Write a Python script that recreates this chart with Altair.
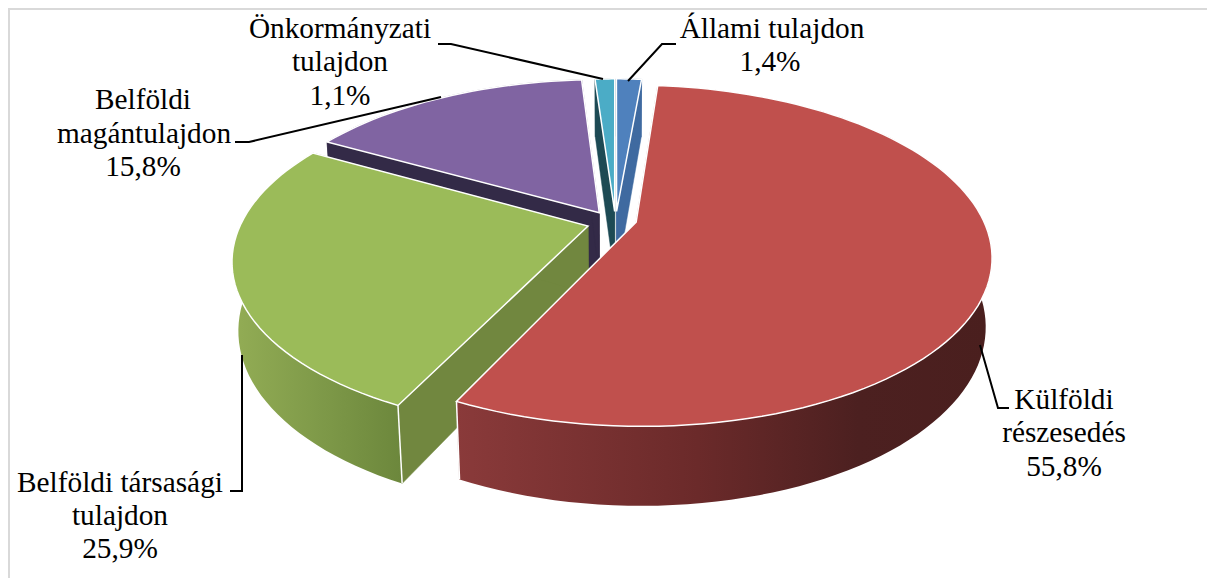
import math
import altair as alt

# ---- values ----
names = ["Állami tulajdon", "Külföldi részesedés", "Belföldi társasági tulajdon",
         "Belföldi magántulajdon", "Önkormányzati tulajdon"]
shares = [1.4, 55.8, 25.9, 15.8, 1.1]
top_colors = ["#4f81bd", "#c0504d", "#9bbb59", "#8064a2", "#4bacc6"]
wall_colors = ["#3f6aa0", "#7a3330", "#71873f", "#332a47", "#1d4a54"]
cut_colors = ["#3f6aa0", "#7a3330", "#71873f", "#332a47", "#1d4a54"]
red_stops = [(0, "#8a3a3a"), (0.45, "#6b2a2a"), (0.75, "#4c2020"), (1, "#4a1f1e")]
green_stops = [(0, "#93ad55"), (0.5, "#7f9a49"), (1, "#6c873c")]
nudge_x = [0, -3.5, -3.5, -3, 0]
nudge_y = [3, -1, 2.5, 2.5, 3]

label_text = ["Állami tulajdon", "1,4%", "Önkormányzati", "tulajdon", "1,1%",
              "Belföldi", "magántulajdon", "15,8%", "Belföldi társasági", "tulajdon", "25,9%",
              "Külföldi", "részesedés", "55,8%"]
label_x = [772, 770, 340, 340, 340, 143, 144, 143, 120, 120, 120, 1064, 1064, 1064]
label_y = [38, 71, 38, 71, 105, 109, 143, 176, 492, 525, 558, 409, 442, 476]

leaders = [
    [[628, 81], [662, 44], [676, 44]],
    [[603, 79], [451, 44], [438, 44]],
    [[441, 97], [249, 142], [235, 142]],
    [[242, 355], [242, 491], [230, 491]],
    [[980, 345], [998, 408], [1009, 408]],
]
frame = [[9, 586], [9, 9], [1215, 9]]

# ---- camera of the tilted pie ----
CX, CY = 615.5, 220.0
FOCAL, DIST = 1560.0, 4.5
ELEV = math.radians(28)
HEIGHT = 0.223
DEPTH_SHRINK = 0.7
EXPLODE = 0.072


def project(px, py, pz):
    w = DIST + py * math.cos(ELEV) - pz * math.sin(ELEV) * DEPTH_SHRINK
    return [CX + FOCAL * px / w, CY - FOCAL * (py * math.sin(ELEV) + pz * math.cos(ELEV)) / w]


def feature(ring, fill="#000000", stroke="#000000", width=0.5):
    closed = ring + [ring[0]]
    return {"type": "Feature",
            "geometry": {"type": "Polygon", "coordinates": [closed]},
            "properties": {"fill": fill, "stroke": stroke, "sw": width}}


total = sum(shares)
bounds = [0.0]
for s in shares:
    bounds.append(bounds[-1] + s / total * 2 * math.pi)


def slice_parts(i):
    a0, a1 = bounds[i], bounds[i + 1]
    mid = (a0 + a1) / 2
    ox, oy = EXPLODE * math.sin(mid), EXPLODE * math.cos(mid)
    n = max(6, int((a1 - a0) / math.radians(2)))
    angles = [a0 + (a1 - a0) * k / n for k in range(n + 1)]

    def at(px, py, pz):
        p = project(ox + px, oy + py, pz)
        return [p[0] + nudge_x[i], p[1] + nudge_y[i]]

    rim = lambda a, z: at(math.sin(a), math.cos(a), z)
    apex = lambda z: at(0, 0, z)
    cuts = [feature([apex(0), rim(a, 0), rim(a, -HEIGHT), apex(-HEIGHT)],
                    cut_colors[i], cut_colors[i], 0.5) for a in (a0, a1)]
    wall_ring = [rim(a, 0) for a in angles] + [rim(a, -HEIGHT) for a in reversed(angles)]
    wall = feature(wall_ring, wall_colors[i], wall_colors[i], 0.5)
    top = feature([apex(0)] + [rim(a, 0) for a in angles], top_colors[i], "#ffffff", 1.5)
    edge = rim(a0 if i == 2 else a1, 0), rim(a0 if i == 2 else a1, -HEIGHT)
    return cuts, wall, top, edge


proj = dict(type="identity", scale=1, translate=[-8, -8])


def solid(rows):
    return alt.Chart(alt.InlineData(values=rows)).mark_geoshape().encode(
        fill=alt.Fill("properties.fill:N", scale=None),
        stroke=alt.Stroke("properties.stroke:N", scale=None),
        strokeWidth=alt.StrokeWidth("properties.sw:Q", scale=None),
    ).project(**proj)


def shaded(row, stops):
    grad = alt.Gradient(gradient="linear", x1=0, x2=1, y1=0, y2=0,
                        stops=[alt.GradientStop(offset=o, color=c) for o, c in stops])
    return alt.Chart(alt.InlineData(values=[row])).mark_geoshape(
        fill=grad, stroke=None, strokeWidth=0).project(**proj)


def path_layer(paths, color, width):
    rows = [{"type": "Feature", "geometry": {"type": "LineString", "coordinates": c}, "properties": {}}
            for c in paths]
    return alt.Chart(alt.InlineData(values=rows)).mark_geoshape(
        filled=False, stroke=color, strokeWidth=width).project(**proj)


layers = [path_layer([frame], "#d9d9d9", 2)]

back = []
for i in (3, 4, 0):
    cuts, wall, top, _ = slice_parts(i)
    back += cuts + [wall, top]
layers.append(solid(back))

for i, stops in ((2, green_stops), (1, red_stops)):
    cuts, wall, top, edge = slice_parts(i)
    layers.append(solid(cuts))
    layers.append(shaded(wall, stops))
    layers.append(path_layer([list(edge)], "#ffffff", 1.5))
    layers.append(solid([top]))

layers.append(path_layer(leaders, "#000000", 2))

text_rows = [{"t": t, "x": x, "y": y} for t, x, y in zip(label_text, label_x, label_y)]
layers.append(alt.Chart(alt.InlineData(values=text_rows)).mark_text(
    font="Liberation Serif", fontSize=29.3, color="#000000", align="center", baseline="alphabetic"
).encode(longitude="x:Q", latitude="y:Q", text="t:N").project(**proj))

chart = alt.layer(*layers).properties(
    width=1199, height=570, padding=0,
    autosize=alt.AutoSizeParams(type="none"),
    background="#ffffff",
).configure_view(stroke=None)

chart.save("out.html", embed_options={"renderer": "svg", "actions": False})
